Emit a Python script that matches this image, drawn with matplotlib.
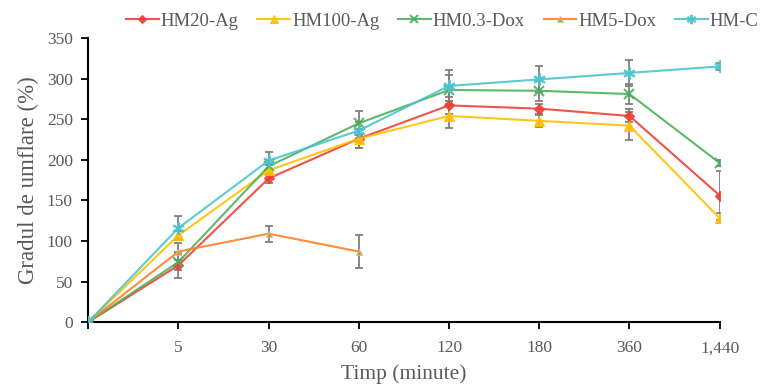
import numpy as np
import matplotlib.pyplot as plt

plt.rcParams['font.family'] = ['Liberation Serif', 'DejaVu Serif']

# date
timp = ["", "5", "30", "60", "120", "180", "360", "1,440"]

hm20_ag = [0, 70, 177, 226, 267, 263, 254, 156]
hm20_ag_err = [0, 16, 5, 12, 10, 6, 8, 30]

hm100_ag = [0, 107, 187, 226, 254, 248, 242, 128]
hm100_ag_err = [0, 5, 6, 12, 15, 7, 17, 6]

hm03_dox = [0, 74, 192, 245, 286, 285, 281, 196]
hm03_dox_err = [0, 10, 8, 15, 18, 12, 12, 4]

hm5_dox = [0, 87, 109, 87]
hm5_dox_err = [0, 10, 10, 20]

hm_c = [0, 116, 199, 236, 291, 299, 307, 315]
hm_c_err = [0, 15, 10, 10, 19, 16, 16, 4]

x = np.arange(len(timp))

fig = plt.figure(figsize=(7.6, 3.84), dpi=100)
ax = fig.add_axes([0.116, 0.161, 0.831, 0.740])

series = [
    ("HM20-Ag", hm20_ag, hm20_ag_err, "#EE4035", "D", 5, None),
    ("HM100-Ag", hm100_ag, hm100_ag_err, "#FFC000", "^", 7, None),
    ("HM0.3-Dox", hm03_dox, hm03_dox_err, "#4DAF5A", "x", 7, None),
    ("HM5-Dox", hm5_dox, hm5_dox_err, "#FF7F27", "^", 5, "#A9D18E"),
    ("HM-C", hm_c, hm_c_err, "#4BC4CF", (6, 2, 0), 9, None),
]

for name, vals, err, col, mk, ms, mec in series:
    xs = x[:len(vals)]
    ax.errorbar(xs, vals, yerr=err, fmt="none", ecolor="#7F7F7F",
                elinewidth=1.3, capsize=3, capthick=1.3, zorder=2)
    ax.plot(xs, vals, color=col, lw=1.5, marker=mk, markersize=ms,
            markerfacecolor=col, markeredgecolor=mec if mec else col,
            markeredgewidth=1.5 if mk in ("x", (6, 2, 0)) else 0.8,
            label=name, zorder=3, alpha=0.9)

ax.set_xlim(0, 7)
ax.set_ylim(0, 350)
ax.set_xticks(x)
ax.set_xticklabels(timp)
ax.set_yticks(np.arange(0, 351, 50))

for s in ["top", "right"]:
    ax.spines[s].set_visible(False)
ax.spines["left"].set_linewidth(1.5)
ax.spines["bottom"].set_linewidth(1.5)
ax.tick_params(axis="both", direction="out", length=5, width=1.3,
               labelsize=12.5, labelcolor="#595959", pad=6)
ax.tick_params(axis="x", pad=8)

ax.set_xlabel("Timp (minute)", fontsize=15.5, color="#595959", labelpad=6)
ax.set_ylabel("Gradul de umflare (%)", fontsize=16.5, color="#595959", labelpad=6)

fig.legend(loc="center", bbox_to_anchor=(0.582, 0.945), ncol=5, frameon=False,
           fontsize=13.5, handlelength=1.75, columnspacing=1.0, handletextpad=0.1,
           markerscale=0.75, labelcolor="#595959")

fig.savefig("out.png", dpi=100)
